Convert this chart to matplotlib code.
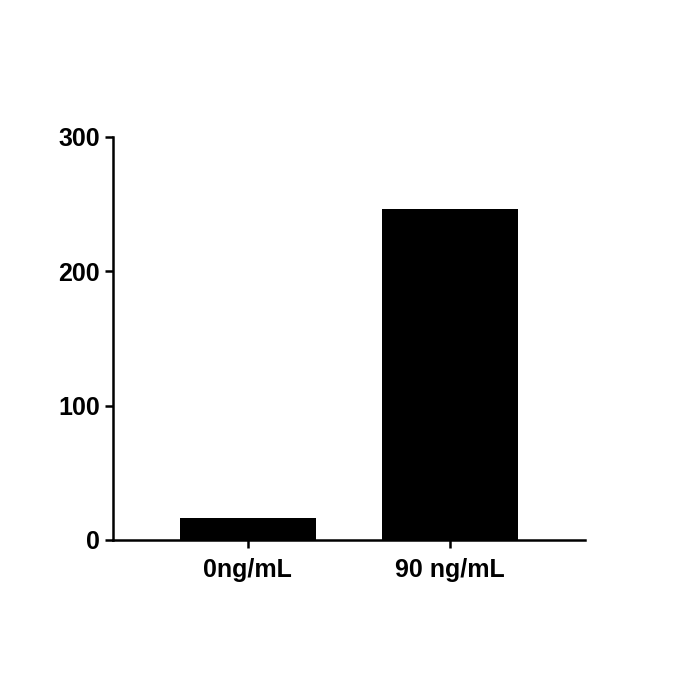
import matplotlib
matplotlib.use("Agg")
import matplotlib.pyplot as plt

categories = ["0ng/mL", "90 ng/mL"]
values = [16.5, 246.5]
yticks = [0, 100, 200, 300]

plt.rcParams["font.family"] = ["Liberation Sans", "DejaVu Sans"]
plt.rcParams["font.weight"] = "bold"

fig = plt.figure(figsize=(7, 7), dpi=100)
ax = fig.add_axes([0.161, 0.2286, 0.675, 0.5757])

x = list(range(len(categories)))
ax.bar(x, values, width=0.67, color="black")

ax.set_xlim(-0.668, 1.668)
ax.set_ylim(0, 300)
ax.set_yticks(yticks)
ax.set_xticks(x)
ax.set_xticklabels(categories)

for s in ["top", "right"]:
    ax.spines[s].set_visible(False)
for s in ["left", "bottom"]:
    ax.spines[s].set_linewidth(1.8)

ax.tick_params(axis="both", width=1.8, length=6, labelsize=18, direction="out")
ax.tick_params(axis="x", pad=7)
ax.tick_params(axis="y", pad=3)
for lbl in ax.get_xticklabels() + ax.get_yticklabels():
    lbl.set_fontweight("bold")

fig.savefig("out.png", dpi=100)
